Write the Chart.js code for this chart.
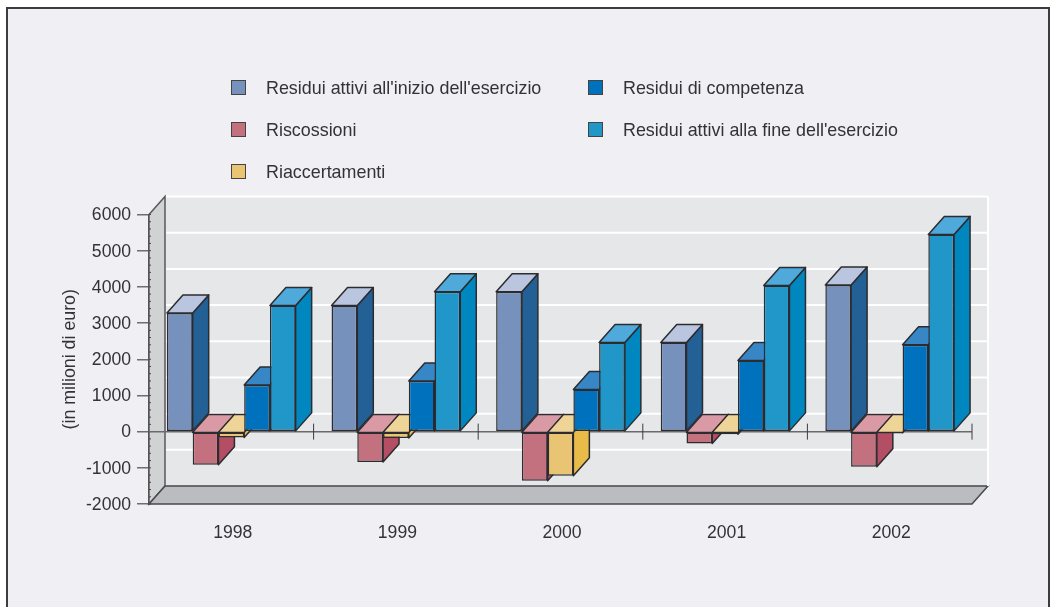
<!DOCTYPE html>
<html>
<head>
    <title>Residui attivi</title>
    <script src="https://cdn.jsdelivr.net/npm/chart.js"></script>
    <style>
        html, body { margin: 0; padding: 0; background: #fff; }
        body { width: 1050px; height: 607px; position: relative; overflow: hidden; font-family: "Liberation Sans", sans-serif; }
        .frame { position: absolute; left: 6px; top: 7px; width: 1040px; height: 600px; background: #efeff4; border: 2px solid #3c3c40; border-bottom: none; }
        canvas { position: absolute; left: 0; top: 0; }
        .legend-item { position: absolute; font-size: 17.9px; line-height: 20px; color: #333336; white-space: nowrap; }
        .legend-item span { position: absolute; left: -35px; top: 2px; width: 13px; height: 13px; border: 1px solid #444; }
    </style>
</head>
<body>
    <div class="frame"></div>
    <canvas id="chart" width="1050" height="607"></canvas>
    <div id="legend"></div>

    <script>
        const years = ['1998', '1999', '2000', '2001', '2002'];
        const seriesNames = [
            "Residui attivi all'inizio dell'esercizio",
            'Riscossioni',
            'Riaccertamenti',
            'Residui di competenza',
            'Residui attivi alla fine dell\'esercizio'
        ];
        const inizio = [3280, 3485, 3865, 2460, 4050];
        const riscossioni = [-915, -840, -1355, -330, -970];
        const riaccertamenti = [-160, -175, -1220, -70, -30];
        const competenza = [1290, 1400, 1165, 1965, 2400];
        const fine = [3485, 3865, 2460, 4040, 5450];

        const frontColors = ['#7691bb', '#c4717f', '#e9c473', '#0071bc', '#2196c9'];
        const sideColors = ['#236096', '#b34e64', '#e9bb48', '#0067ac', '#0087bf'];
        const topColors = ['#bac6df', '#d99aa6', '#efd498', '#3787c7', '#4fa9da'];

        // depth of the fake 3D box, same for the bars and the walls
        const depthX = 16;
        const depthY = 18;

        function poly(ctx, points, fill, stroke) {
            ctx.beginPath();
            points.forEach((p, i) => i ? ctx.lineTo(p[0], p[1]) : ctx.moveTo(p[0], p[1]));
            ctx.closePath();
            ctx.fillStyle = fill;
            ctx.fill();
            if (stroke) {
                ctx.lineWidth = 1.5;
                ctx.strokeStyle = stroke;
                ctx.stroke();
            }
        }

        function drawPane(chart) {
            const { ctx, chartArea: a, scales: { x, y } } = chart;
            const l = a.left, r = a.right, t = a.top, b = a.bottom;
            ctx.save();
            poly(ctx, [[l + depthX, t - depthY], [r + depthX, t - depthY], [r + depthX, b - depthY], [l + depthX, b - depthY]], '#e6e7e9');
            poly(ctx, [[l, t], [l + depthX, t - depthY], [l + depthX, b - depthY], [l, b]], '#d1d2d4', '#58585c');
            poly(ctx, [[l, b], [l + depthX, b - depthY], [r + depthX, b - depthY], [r, b]], '#bbbcbf', '#48484c');

            ctx.strokeStyle = '#fff';
            ctx.lineWidth = 2;
            y.ticks.forEach(tick => {
                if (tick.value === y.min) return;
                const py = y.getPixelForValue(tick.value) - depthY;
                ctx.beginPath();
                ctx.moveTo(l + depthX + 1, py);
                ctx.lineTo(r + depthX, py);
                ctx.stroke();
            });
            ctx.beginPath();
            ctx.moveTo(r + depthX, t - depthY);
            ctx.lineTo(r + depthX, b - depthY);
            ctx.stroke();

            // small teeth on the y axis line
            ctx.strokeStyle = '#48484c';
            ctx.lineWidth = 1;
            for (let v = y.min; v <= y.max; v += 200) {
                const py = y.getPixelForValue(v);
                ctx.beginPath();
                ctx.moveTo(l, py);
                ctx.lineTo(l + 2, py);
                ctx.stroke();
            }

            // zero axis with the separators between years
            const zero = y.getPixelForValue(0);
            ctx.strokeStyle = '#6a6a6e';
            ctx.lineWidth = 1.5;
            ctx.beginPath();
            ctx.moveTo(l, zero);
            ctx.lineTo(r, zero);
            ctx.stroke();
            ctx.strokeStyle = '#3c3c40';
            ctx.lineWidth = 1;
            const half = (x.getPixelForTick(1) - x.getPixelForTick(0)) / 2;
            years.forEach((year, i) => {
                const px = x.getPixelForTick(i) + half;
                ctx.beginPath();
                ctx.moveTo(px, zero - 8);
                ctx.lineTo(px, zero + 8);
                ctx.stroke();
            });
            ctx.restore();
        }

        // top and side of each box
        function drawBoxFaces(chart, meta, i) {
            const { ctx } = chart;
            ctx.save();
            ctx.lineJoin = 'round';
            meta.data.forEach(bar => {
                const p = bar.getProps(['x', 'y', 'base', 'width'], true);
                const left = p.x - p.width / 2, right = p.x + p.width / 2;
                const top = Math.min(p.y, p.base), bottom = Math.max(p.y, p.base);
                poly(ctx, [[right, top], [right + depthX, top - depthY], [right + depthX, bottom - depthY], [right, bottom]], sideColors[i], '#2c2c30');
                poly(ctx, [[left, top], [left + depthX, top - depthY], [right + depthX, top - depthY], [right, top]], topColors[i], '#2c2c30');
            });
            ctx.restore();
        }

        // chart.js paints the last dataset first, but here the boxes have to
        // go left to right so each one covers the side of the previous one.
        // So paint them here and cancel the normal pass.
        const pane = {
            id: 'pane',
            beforeDatasetsDraw(chart) {
                drawPane(chart);
                seriesNames.forEach((name, i) => {
                    const meta = chart.getDatasetMeta(i);
                    drawBoxFaces(chart, meta, i);
                    meta.controller.draw();
                });
                return false;
            }
        };

        const seriesValues = [inizio, riscossioni, riaccertamenti, competenza, fine];

        new Chart(document.getElementById('chart'), {
            type: 'bar',
            data: {
                labels: years,
                datasets: seriesValues.map((values, i) => ({
                    label: seriesNames[i],
                    data: values,
                    backgroundColor: frontColors[i],
                    borderColor: '#2c2c30',
                    borderWidth: 1.5,
                    borderSkipped: false
                }))
            },
            options: {
                responsive: false,
                animation: false,
                layout: { padding: { top: 214.5, right: 78, left: 0, bottom: 0 } },
                categoryPercentage: 0.782,
                barPercentage: 1,
                plugins: { legend: { display: false }, tooltip: { enabled: false } },
                scales: {
                    x: {
                        afterFit: scale => { scale.height = 103; },
                        grid: { display: false },
                        border: { display: false },
                        ticks: { color: '#333336', padding: 11, labelOffset: 1.5, maxRotation: 0, font: { family: 'Liberation Sans', size: 17.6 } }
                    },
                    y: {
                        min: -2000,
                        max: 6000,
                        afterFit: scale => { scale.width = 149; },
                        ticks: { stepSize: 1000, color: '#333336', padding: 6, labelOffset: 1, callback: v => String(v), font: { family: 'Liberation Sans', size: 17.6 } },
                        grid: { drawOnChartArea: false, tickLength: 12, color: '#6d6e71', lineWidth: 1.5 },
                        border: { color: '#48484c', width: 1.5 },
                        title: {
                            display: true,
                            text: '(in milioni di euro)',
                            color: '#333336',
                            padding: { top: 59, bottom: 0 },
                            font: { family: 'Liberation Sans', size: 17.8 }
                        }
                    }
                }
            },
            plugins: [pane]
        });

        // legend is three rows, filled column by column
        const legendEl = document.getElementById('legend');
        seriesNames.forEach((name, i) => {
            const item = document.createElement('div');
            item.className = 'legend-item';
            item.style.left = (i < 3 ? 266 : 623) + 'px';
            item.style.top = (78 + (i % 3) * 42) + 'px';
            item.innerHTML = '<span style="background:' + frontColors[i] + '"></span>';
            item.appendChild(document.createTextNode(name));
            legendEl.appendChild(item);
        });
    </script>
</body>
</html>
